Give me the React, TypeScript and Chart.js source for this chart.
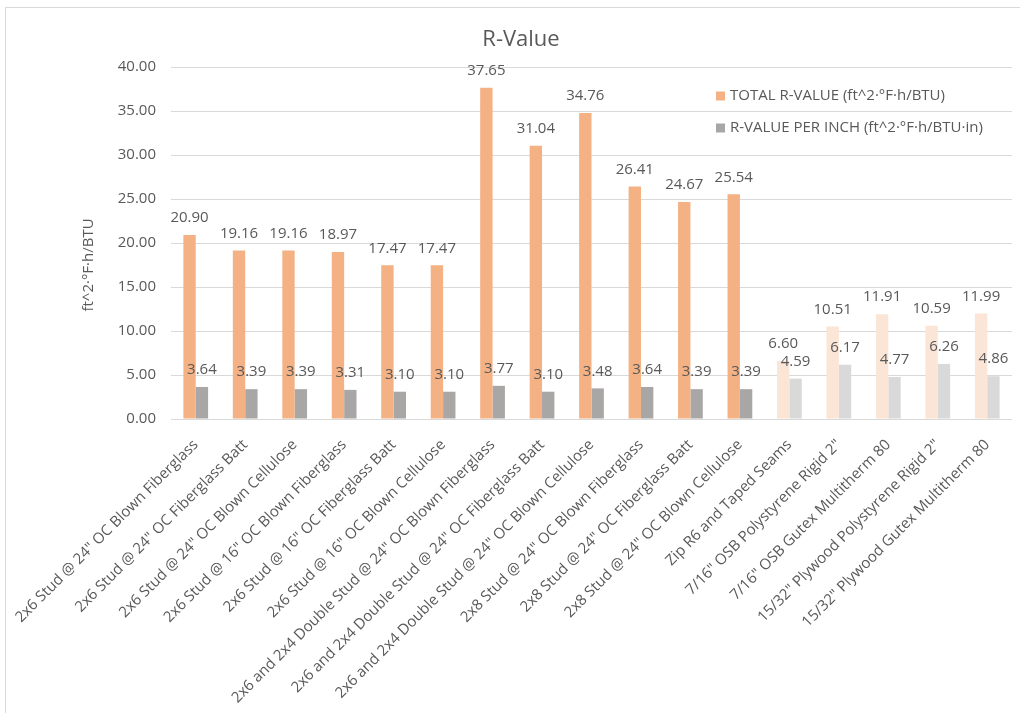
import React, { useEffect, useRef } from "react";
import { Chart, registerables } from "chart.js";

Chart.register(...registerables);

const categories = [
  "2x6 Stud @ 24\" OC Blown Fiberglass",
  "2x6 Stud @ 24\" OC Fiberglass Batt",
  "2x6 Stud @ 24\" OC Blown Cellulose",
  "2x6 Stud @ 16\" OC Blown Fiberglass",
  "2x6 Stud @ 16\" OC Fiberglass Batt",
  "2x6 Stud @ 16\" OC Blown Cellulose",
  "2x6 and 2x4 Double Stud @ 24\" OC Blown Fiberglass",
  "2x6 and 2x4 Double Stud @ 24\" OC Fiberglass Batt",
  "2x6 and 2x4 Double Stud @ 24\" OC Blown Cellulose",
  "2x8 Stud @ 24\" OC Blown Fiberglass",
  "2x8 Stud @ 24\" OC Fiberglass Batt",
  "2x8 Stud @ 24\" OC Blown Cellulose",
  "Zip R6 and Taped Seams",
  "7/16\" OSB Polystyrene Rigid 2\"",
  "7/16\" OSB Gutex Multitherm 80",
  "15/32\" Plywood Polystyrene Rigid 2\"",
  "15/32\" Plywood Gutex Multitherm 80",
];

const totalRValue = [20.9, 19.16, 19.16, 18.97, 17.47, 17.47, 37.65, 31.04, 34.76, 26.41, 24.67, 25.54, 6.6, 10.51, 11.91, 10.59, 11.99];
const rValuePerInch = [3.64, 3.39, 3.39, 3.31, 3.1, 3.1, 3.77, 3.1, 3.48, 3.64, 3.39, 3.39, 4.59, 6.17, 4.77, 6.26, 4.86];

const seriesNames = ["TOTAL R-VALUE (ft^2·°F·h/BTU)", "R-VALUE PER INCH (ft^2·°F·h/BTU·in)"];
const yTicks = [0, 5, 10, 15, 20, 25, 30, 35, 40];
const chartTitle = "R-Value";
const yAxisTitle = "ft^2·°F·h/BTU";
const sheathingStart = 12; // categories drawn in faded colours

const FONT = "'Open Sans', sans-serif";
const TEXT = "#595959";
const ORANGE = "#F4B183";
const ORANGE_LIGHT = "#FBE5D6";
const GRAY = "#A9A6A6";
const GRAY_LIGHT = "#D9D9D9";

const decorPlugin = {
  id: "decor",
  beforeDraw(chart: any) {
    const ctx = chart.ctx;
    ctx.save();
    ctx.fillStyle = "#ffffff";
    ctx.fillRect(0, 0, chart.width, chart.height);
    ctx.strokeStyle = "#D9D9D9";
    ctx.lineWidth = 1;
    ctx.strokeRect(5.5, 7.5, chart.width + 20, chart.height + 20);
    ctx.restore();
  },
  afterDatasetsDraw(chart: any) {
    const ctx = chart.ctx;
    ctx.save();
    ctx.font = `15px ${FONT}`;
    ctx.fillStyle = TEXT;
    ctx.textAlign = "center";
    ctx.textBaseline = "middle";
    chart.data.datasets.forEach((ds: any, di: number) => {
      const meta = chart.getDatasetMeta(di);
      meta.data.forEach((bar: any, i: number) => {
        ctx.fillText(ds.data[i].toFixed(2), bar.x, bar.y - 17);
      });
    });
    ctx.restore();
  },
  afterDraw(chart: any) {
    const ctx = chart.ctx;
    ctx.save();
    // title
    ctx.fillStyle = TEXT;
    ctx.font = `22px ${FONT}`;
    ctx.textAlign = "center";
    ctx.textBaseline = "middle";
    ctx.fillText(chartTitle, 521, 40);
    // y axis title
    ctx.save();
    ctx.translate(89, 265);
    ctx.rotate(-Math.PI / 2);
    ctx.font = `15px ${FONT}`;
    ctx.fillText(yAxisTitle, 0, 0);
    ctx.restore();
    // legend
    const colors = [ORANGE, GRAY];
    ctx.font = `15px ${FONT}`;
    ctx.textAlign = "left";
    seriesNames.forEach((name, i) => {
      const y = 96 + i * 32;
      ctx.fillStyle = colors[i];
      ctx.fillRect(716, y - 4.5, 9, 9);
      ctx.fillStyle = TEXT;
      ctx.fillText(name, 730, y);
    });
    ctx.restore();
  },
};

export default function App() {
  const ref = useRef<HTMLCanvasElement>(null);
  useEffect(() => {
    if (!ref.current) return;
    const chart = new Chart(ref.current, {
      type: "bar",
      data: {
        labels: categories,
        datasets: [
          {
            label: seriesNames[0],
            data: totalRValue,
            backgroundColor: categories.map((_, i) => (i >= sheathingStart ? ORANGE_LIGHT : ORANGE)),
            categoryPercentage: 0.5,
            barPercentage: 1.0,
          },
          {
            label: seriesNames[1],
            data: rValuePerInch,
            backgroundColor: categories.map((_, i) => (i >= sheathingStart ? GRAY_LIGHT : GRAY)),
            categoryPercentage: 0.5,
            barPercentage: 1.0,
          },
        ],
      },
      options: {
        responsive: false,
        animation: false,
        layout: { padding: { left: 0, top: 67, right: 8, bottom: 0 } },
        plugins: {
          legend: { display: false },
          title: { display: false },
          tooltip: { enabled: false },
        },
        scales: {
          x: {
            grid: { display: false },
            border: { display: false },
            ticks: {
              autoSkip: false,
              minRotation: 45,
              maxRotation: 45,
              color: TEXT,
              font: { family: FONT, size: 15 },
              padding: 9,
            },
            afterFit: (s: any) => {
              s.height = 713 - 419;
            },
          },
          y: {
            min: 0,
            max: 40,
            afterBuildTicks: (s: any) => {
              s.ticks = yTicks.map((v) => ({ value: v }));
            },
            grid: { color: "#D9D9D9", drawTicks: false, lineWidth: 1 },
            border: { display: false },
            ticks: {
              color: TEXT,
              font: { family: FONT, size: 15 },
              padding: 15,
              callback: (v: any) => Number(v).toFixed(2),
            },
            afterFit: (s: any) => {
              s.width = 171;
            },
          },
        },
      },
      plugins: [decorPlugin],
    });
    return () => chart.destroy();
  }, []);
  return (
    <div style={{ position: "fixed", left: 0, top: 0, width: 1020, height: 713, background: "#fff" }}>
      <canvas ref={ref} width={1020} height={713} style={{ display: "block" }} />
    </div>
  );
}
